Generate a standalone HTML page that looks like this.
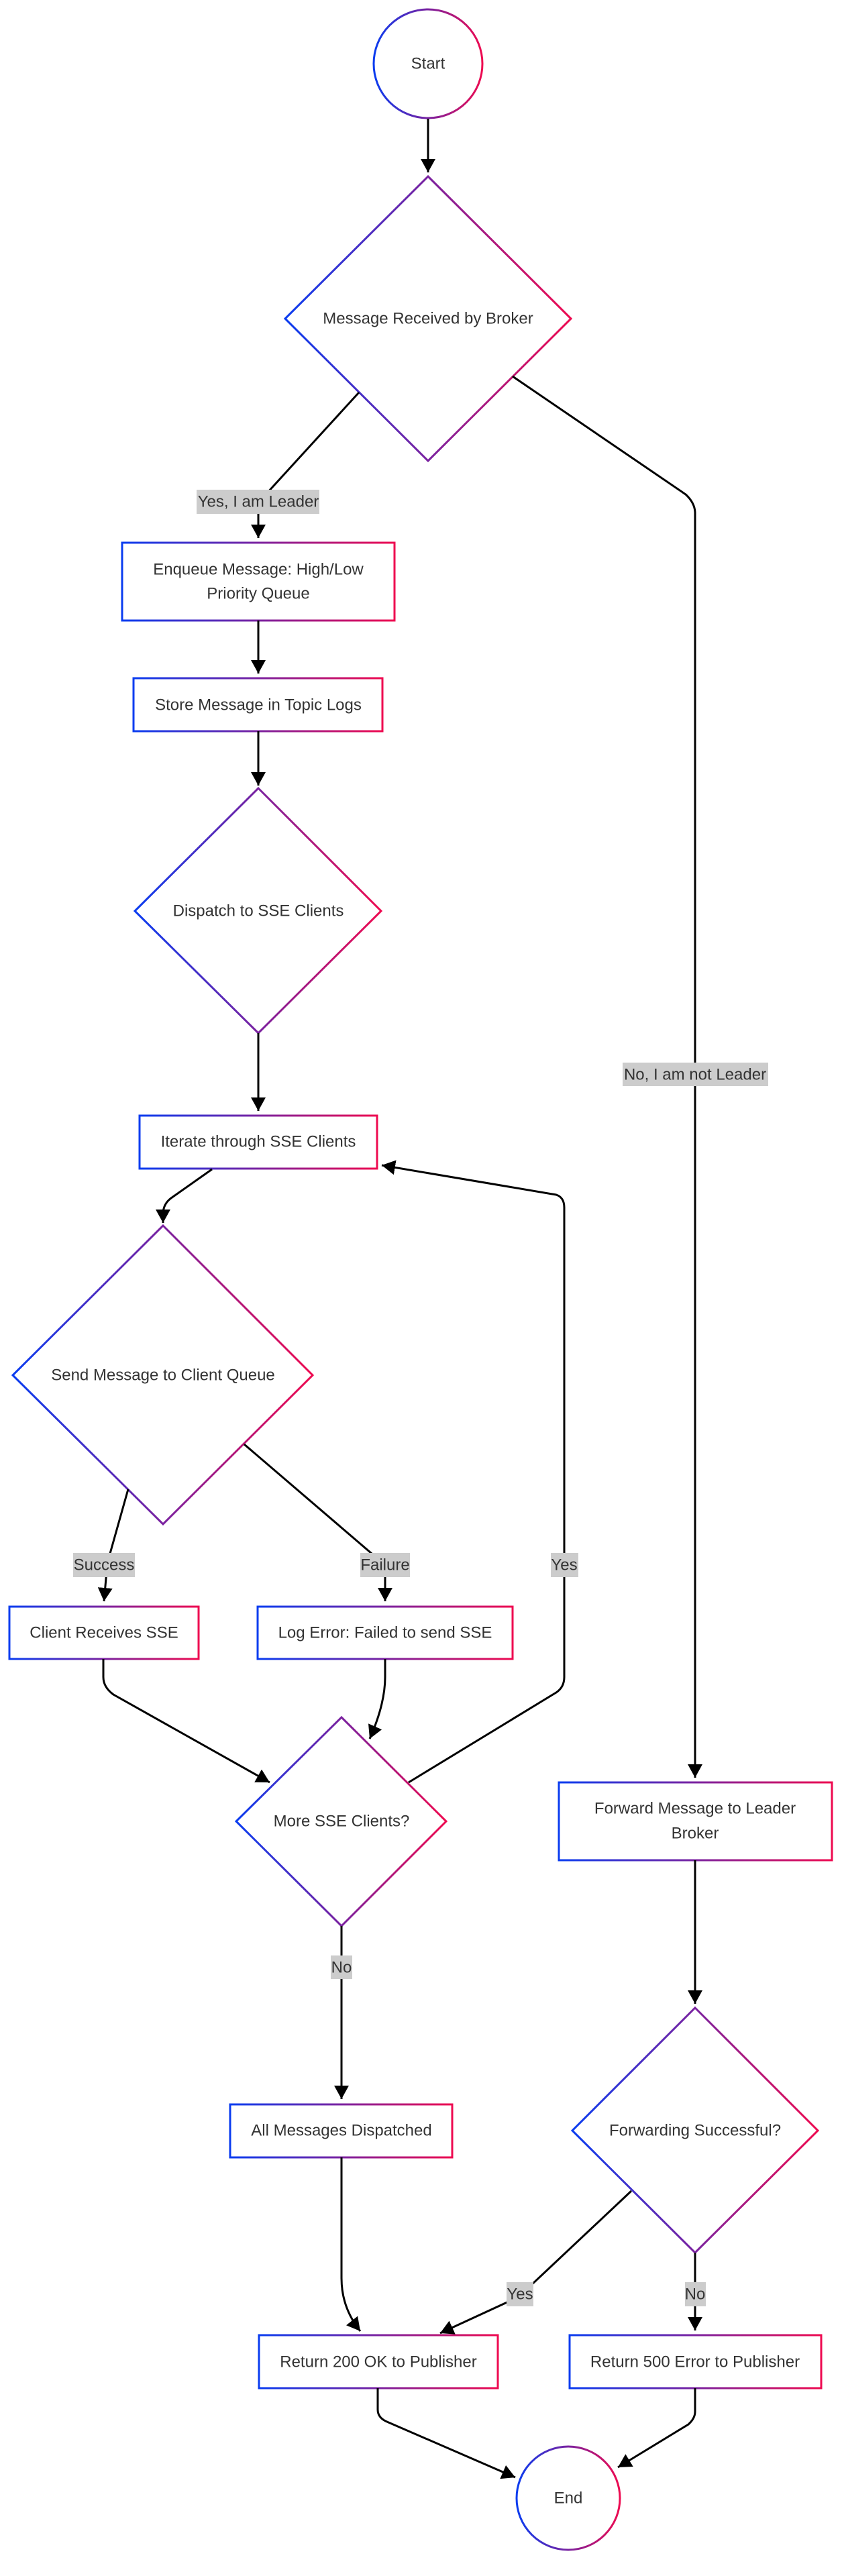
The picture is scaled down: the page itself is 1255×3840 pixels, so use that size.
<!DOCTYPE html>
<html><head><meta charset="utf-8">
<style>
html,body{margin:0;padding:0;background:#fff;}
svg{display:block;}
text{font-family:"Liberation Sans",Arial,sans-serif;font-size:24px;fill:#333;}
</style></head>
<body>
<svg width="1255" height="3840" viewBox="0 0 1255 3840" xmlns="http://www.w3.org/2000/svg">
<defs>
<linearGradient id="g" x1="0" y1="0" x2="1" y2="0">
<stop offset="0" stop-color="#0a3cf0"/>
<stop offset="0.5" stop-color="#7a22a0"/>
<stop offset="1" stop-color="#ee0a50"/>
</linearGradient>
<marker id="a" markerUnits="userSpaceOnUse" markerWidth="22" markerHeight="22" refX="20" refY="11" orient="auto">
<path d="M0,0 L20,11 L0,22 z" fill="#000"/>
</marker>
</defs>
<g fill="#fff" stroke="url(#g)" stroke-width="3">
<circle cx="638" cy="95" r="81"/>
<polygon points="638,263 851,475 638,687 425,475"/>
<rect x="182" y="809" width="406" height="116"/>
<rect x="199" y="1011" width="371" height="79"/>
<polygon points="385,1175 568,1358 385,1540 201,1358"/>
<rect x="208" y="1663" width="354" height="79"/>
<polygon points="243,1827 466,2050 243,2272 19,2050"/>
<rect x="14" y="2395" width="282" height="78"/>
<rect x="384" y="2395" width="380" height="78"/>
<polygon points="509,2560 665,2715 509,2871 352,2715"/>
<rect x="833" y="2657" width="407" height="116"/>
<rect x="343" y="3137" width="331" height="79"/>
<polygon points="1036,2993 1219,3176 1036,3358 853,3176"/>
<rect x="386" y="3481" width="356" height="79"/>
<rect x="849" y="3481" width="375" height="79"/>
<circle cx="847" cy="3724" r="77"/>
</g>
<g fill="none" stroke="#000" stroke-width="3" marker-end="url(#a)">
<path d="M638,177 L638,257"/>
<path d="M535,585 L398,735 Q385,750 385,765 L385,802"/>
<path d="M385,925 L385,1004"/>
<path d="M385,1090 L385,1171"/>
<path d="M385,1540 L385,1656"/>
<path d="M316,1743 L255,1786 Q243,1795 243,1810 L243,1823"/>
<path d="M191,2220 L160,2330 L155,2387"/>
<path d="M364,2153 L553,2315 Q574,2333 574,2350 L574,2387"/>
<path d="M154,2473 L154,2500 Q154,2515 169,2526 L402,2657"/>
<path d="M574,2473 L574,2500 Q574,2540 551,2592"/>
<path d="M609,2657 L829,2523 Q841,2515 841,2500 L841,1800 Q841,1785 829,1781 L569,1737"/>
<path d="M764,561 L1022,737 Q1036,750 1036,765 L1036,2650"/>
<path d="M509,2871 L509,3129"/>
<path d="M1036,2773 L1036,2987"/>
<path d="M941,3266 L790,3408 Q775,3420 760,3430 L656,3478"/>
<path d="M1036,3358 L1036,3474"/>
<path d="M509,3216 L509,3396 Q509,3440 537,3475"/>
<path d="M563,3560 L563,3592 Q563,3605 579,3611 L768,3693"/>
<path d="M1036,3560 L1036,3595 Q1036,3605 1026,3614 L921,3678"/>
</g>
<g fill="#cccccc">
<rect x="293" y="730" width="183" height="36"/>
<rect x="928" y="1584" width="217" height="35"/>
<rect x="109" y="2315" width="92" height="36"/>
<rect x="537" y="2315" width="74" height="36"/>
<rect x="821" y="2315" width="41" height="36"/>
<rect x="493" y="2915" width="32" height="35"/>
<rect x="755" y="3402" width="40" height="36"/>
<rect x="1021" y="3402" width="31" height="36"/>
</g>
<g text-anchor="middle" dominant-baseline="central">
<text x="638" y="95">Start</text>
<text x="638" y="475">Message Received by Broker</text>
<text x="385" y="849">Enqueue Message: High/Low</text>
<text x="385" y="885">Priority Queue</text>
<text x="385" y="1051">Store Message in Topic Logs</text>
<text x="385" y="1358">Dispatch to SSE Clients</text>
<text x="385" y="1702">Iterate through SSE Clients</text>
<text x="243" y="2050">Send Message to Client Queue</text>
<text x="155" y="2434">Client Receives SSE</text>
<text x="574" y="2434">Log Error: Failed to send SSE</text>
<text x="509" y="2715">More SSE Clients?</text>
<text x="1036" y="2696">Forward Message to Leader</text>
<text x="1036" y="2733">Broker</text>
<text x="509" y="3176">All Messages Dispatched</text>
<text x="1036" y="3176">Forwarding Successful?</text>
<text x="564" y="3521">Return 200 OK to Publisher</text>
<text x="1036" y="3521">Return 500 Error to Publisher</text>
<text x="847" y="3724">End</text>
<text x="385" y="748">Yes, I am Leader</text>
<text x="1036" y="1602">No, I am not Leader</text>
<text x="155" y="2333">Success</text>
<text x="574" y="2333">Failure</text>
<text x="841" y="2333">Yes</text>
<text x="509" y="2933">No</text>
<text x="775" y="3420">Yes</text>
<text x="1036" y="3420">No</text>
</g>
</svg>
</body></html>
